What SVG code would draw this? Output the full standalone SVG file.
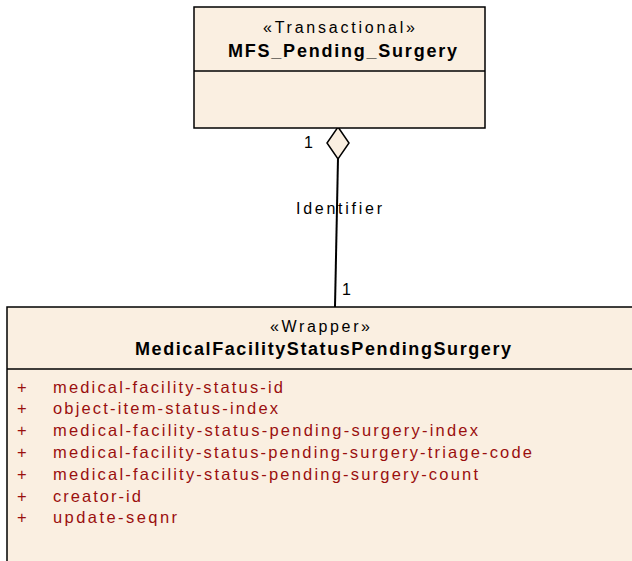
<svg xmlns="http://www.w3.org/2000/svg" width="632" height="561" viewBox="0 0 632 561">
<style>
.box{fill:#FAEFE1;stroke:#000;stroke-width:1.5}
.div{stroke:#000;stroke-width:1.5}
.st{font-family:"Liberation Sans",Arial,sans-serif;font-size:16px;fill:#000}
.nm{font-family:"Liberation Sans",Arial,sans-serif;font-size:18px;font-weight:bold;fill:#000}
.at{font-family:"Liberation Sans",Arial,sans-serif;font-size:16.5px;fill:#9A0F0F}
.lb{font-family:"Liberation Sans",Arial,sans-serif;font-size:16px;fill:#000}
</style>
<rect width="632" height="561" fill="#fff"/>
<g id="connectors">
<line x1="338" y1="158" x2="335" y2="307" stroke="#000" stroke-width="2"/>
<polygon points="338,127 349,143 338,159 327,143" fill="#FAEFE1" stroke="#000" stroke-width="1.5"/>
<text class="lb" x="304" y="147.5">1</text>
<text class="lb" x="296" y="213.5" textLength="86" lengthAdjust="spacing">Identifier</text>
<text class="lb" x="342" y="294.5">1</text>
</g>
<g id="MFS_Pending_Surgery">
<rect class="box" x="194" y="7" width="291" height="121"/>
<line class="div" x1="194" y1="71" x2="485" y2="71"/>
<text class="st" x="263" y="33" textLength="152" lengthAdjust="spacing">«Transactional»</text>
<text class="nm" x="228" y="56.5" textLength="229" lengthAdjust="spacing">MFS_Pending_Surgery</text>
</g>
<g id="MedicalFacilityStatusPendingSurgery">
<rect class="box" x="7" y="307" width="640" height="270"/>
<line class="div" x1="7" y1="369" x2="632" y2="369"/>
<text class="st" x="270" y="332" textLength="100" lengthAdjust="spacing">«Wrapper»</text>
<text class="nm" x="135" y="355" textLength="376" lengthAdjust="spacing">MedicalFacilityStatusPendingSurgery</text>
<text class="at" x="17" y="392.5">+</text><text class="at" x="53" y="392.5" textLength="230" lengthAdjust="spacing">medical-facility-status-id</text>
<text class="at" x="17" y="414.3">+</text><text class="at" x="53" y="414.3" textLength="225" lengthAdjust="spacing">object-item-status-index</text>
<text class="at" x="17" y="436">+</text><text class="at" x="53" y="436" textLength="425" lengthAdjust="spacing">medical-facility-status-pending-surgery-index</text>
<text class="at" x="17" y="458">+</text><text class="at" x="53" y="458" textLength="479" lengthAdjust="spacing">medical-facility-status-pending-surgery-triage-code</text>
<text class="at" x="17" y="480">+</text><text class="at" x="53" y="480" textLength="425" lengthAdjust="spacing">medical-facility-status-pending-surgery-count</text>
<text class="at" x="17" y="501.5">+</text><text class="at" x="53" y="501.5" textLength="88" lengthAdjust="spacing">creator-id</text>
<text class="at" x="17" y="522.7">+</text><text class="at" x="53" y="522.7" textLength="124" lengthAdjust="spacing">update-seqnr</text>
</g>
</svg>
